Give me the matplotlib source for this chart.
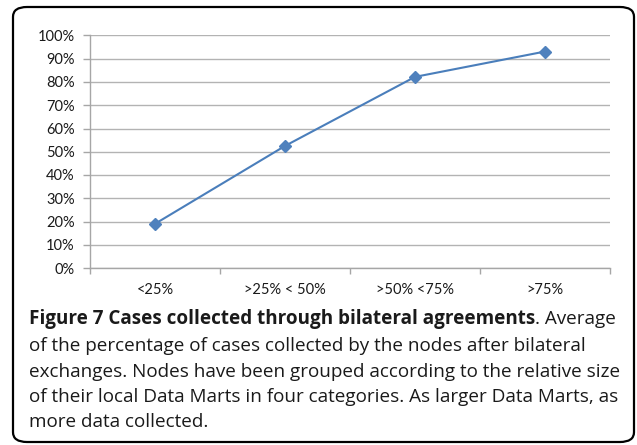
import numpy as np
import matplotlib.pyplot as plt
from matplotlib.patches import FancyBboxPatch

categories = ["<25%", ">25% < 50%", ">50% <75%", ">75%"]
values = [0.19, 0.525, 0.822, 0.931]
y_ticks = [0.0, 0.1, 0.2, 0.3, 0.4, 0.5, 0.6, 0.7, 0.8, 0.9, 1.0]

caption_bold = "Figure 7 Cases collected through bilateral agreements"
caption_lines = [
    ". Average",
    "of the percentage of cases collected by the nodes after bilateral",
    "exchanges. Nodes have been grouped according to the relative size",
    "of their local Data Marts in four categories. As larger Data Marts, as",
    "more data collected.",
]

W, H = 637, 445
fig = plt.figure(figsize=(W / 100, H / 100), dpi=100)

# rounded frame around figure + caption
frame = FancyBboxPatch((13 / W, 3 / H), 621 / W, 435 / H,
                       boxstyle="round,pad=0,rounding_size=0.022",
                       transform=fig.transFigure, fill=False,
                       edgecolor="black", linewidth=1.6)
fig.patches.append(frame)

ax = fig.add_axes([90 / W, 1 - 268 / H, 520 / W, 232.5 / H])
x = np.arange(len(categories))
ax.plot(x, values, color="#4a7ebb", linewidth=1.5, marker="D",
        markersize=6, markerfacecolor="#4f81bd", markeredgecolor="#4f81bd")

ax.set_xlim(-0.5, len(categories) - 0.5)
ax.set_ylim(0, 1)
ax.set_yticks(y_ticks)
ax.set_yticklabels([f"{int(round(v * 100))}%" for v in y_ticks],
                   fontsize=10.5, family="Lato", color="#1a1a1a")
ax.set_xticks(x)
ax.set_xticklabels(categories, fontsize=10.5, family="Lato", color="#1a1a1a")
ax.set_xticks(np.arange(-0.5, len(categories)), minor=True)
ax.tick_params(axis="x", which="major", length=0, pad=11)
ax.tick_params(axis="x", which="minor", length=4.5, color="#a6a6a6", width=1)
ax.tick_params(axis="y", length=5, color="#a6a6a6", width=1, pad=6)
ax.grid(axis="y", color="#b3b3b3", linewidth=1)
ax.set_axisbelow(True)
for side in ["top", "right"]:
    ax.spines[side].set_visible(False)
for side in ["left", "bottom"]:
    ax.spines[side].set_color("#a6a6a6")
    ax.spines[side].set_linewidth(1)

# caption: size it so the widest printed line spans ~589 px
fig.canvas.draw()
renderer = fig.canvas.get_renderer()
left_px = 29
cap_font = "Open Sans"


def text_width(s, size, weight="normal"):
    t = fig.text(0, 0, s, family=cap_font, fontsize=size, fontweight=weight)
    w = t.get_window_extent(renderer).width
    t.remove()
    return w


size = 12.0 * 589 / text_width(caption_lines[2], 12.0)
ys = [319, 346, 372, 397, 422]
for i, line in enumerate(caption_lines):
    yp = 1 - ys[i] / H
    xp = left_px
    if i == 0:
        fig.text(xp / W, yp, caption_bold, family=cap_font, fontsize=size,
                 fontweight="bold", color="#1a1a1a", va="center")
        xp += text_width(caption_bold, size, "bold")
    fig.text(xp / W, yp, line, family=cap_font, fontsize=size,
             color="#1a1a1a", va="center")

fig.savefig("out.png", dpi=100)
